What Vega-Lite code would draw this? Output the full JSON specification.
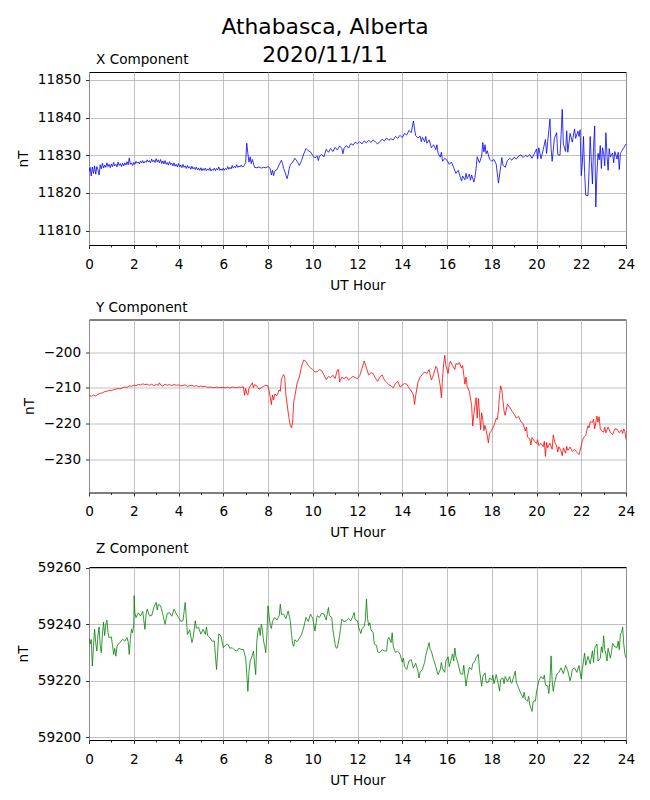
{
  "$schema": "https://vega.github.io/schema/vega-lite/v6.json",
  "description": "Athabasca magnetometer, X/Y/Z components for 2020-11-11.",
  "padding": {"left": 15, "top": 17, "right": 24, "bottom": 10},
  "title": {
    "text": ["Athabasca, Alberta", "2020/11/11"],
    "fontSize": 21.8,
    "fontWeight": "normal",
    "font": "DejaVu Sans",
    "color": "black",
    "lineHeight": 27.7,
    "anchor": "middle",
    "frame": "group",
    "dx": -32.5,
    "offset": -14
  },
  "config": {
    "font": "DejaVu Sans",
    "view": {"stroke": "black", "strokeWidth": 1},
    "axis": {
      "domain": false,
      "grid": true,
      "gridColor": "#b0b0b0",
      "gridWidth": 0.8,
      "tickColor": "black",
      "tickWidth": 0.8,
      "tickSize": 3.5,
      "labelFont": "DejaVu Sans",
      "labelFontSize": 13.6,
      "labelColor": "black",
      "labelPadding": 4.9,
      "labelFlush": false,
      "labelOverlap": false,
      "titleFont": "DejaVu Sans",
      "titleFontSize": 13.6,
      "titleFontWeight": "normal",
      "titleColor": "black",
      "titlePadding": 7
    },
    "axisX": {"labelPadding": 8.9},
    "title": {"font": "DejaVu Sans", "fontWeight": "normal", "color": "black"}
  },
  "bounds": "flush",
  "spacing": 74.5,
  "datasets": {
    "xc": [
      {"h":0.00,"v":11825.6},{"h":0.05,"v":11826.8},{"h":0.10,"v":11824.5},{"h":0.15,"v":11826.9},{"h":0.20,"v":11825.2},{"h":0.25,"v":11827.2},{"h":0.30,"v":11825.0},{"h":0.35,"v":11827.0},{"h":0.40,"v":11826.2},{"h":0.45,"v":11824.8},{"h":0.50,"v":11827.5},{"h":0.55,"v":11826.4},{"h":0.60,"v":11827.9},{"h":0.65,"v":11826.6},{"h":0.70,"v":11827.4},{"h":0.75,"v":11826.8},{"h":0.80,"v":11828.0},{"h":0.85,"v":11827.0},{"h":0.90,"v":11827.6},{"h":0.95,"v":11826.7},
      {"h":1.00,"v":11827.7},{"h":1.05,"v":11827.0},{"h":1.10,"v":11828.1},{"h":1.15,"v":11827.2},{"h":1.20,"v":11827.6},{"h":1.25,"v":11826.9},{"h":1.30,"v":11828.2},{"h":1.35,"v":11827.3},{"h":1.40,"v":11827.8},{"h":1.45,"v":11827.0},{"h":1.50,"v":11827.9},{"h":1.55,"v":11827.2},{"h":1.60,"v":11828.0},{"h":1.65,"v":11827.4},{"h":1.70,"v":11828.3},{"h":1.75,"v":11827.5},{"h":1.80,"v":11829.3},{"h":1.85,"v":11827.6},{"h":1.90,"v":11828.0},{"h":1.95,"v":11827.3},
      {"h":2.00,"v":11828.1},{"h":2.05,"v":11827.6},{"h":2.10,"v":11828.4},{"h":2.15,"v":11827.9},{"h":2.20,"v":11828.2},{"h":2.25,"v":11827.7},{"h":2.30,"v":11828.5},{"h":2.35,"v":11828.0},{"h":2.40,"v":11828.6},{"h":2.45,"v":11827.9},{"h":2.50,"v":11828.4},{"h":2.55,"v":11828.1},{"h":2.60,"v":11828.8},{"h":2.65,"v":11828.2},{"h":2.70,"v":11828.6},{"h":2.75,"v":11828.0},{"h":2.80,"v":11829.0},{"h":2.85,"v":11828.3},{"h":2.90,"v":11828.7},{"h":2.95,"v":11828.1},
      {"h":3.00,"v":11829.1},{"h":3.05,"v":11828.2},{"h":3.10,"v":11828.8},{"h":3.15,"v":11828.0},{"h":3.20,"v":11828.9},{"h":3.25,"v":11827.8},{"h":3.30,"v":11828.5},{"h":3.35,"v":11827.7},{"h":3.40,"v":11828.6},{"h":3.45,"v":11827.6},{"h":3.50,"v":11828.1},{"h":3.55,"v":11827.4},{"h":3.60,"v":11828.3},{"h":3.65,"v":11827.5},{"h":3.70,"v":11827.9},{"h":3.75,"v":11827.2},{"h":3.80,"v":11828.0},{"h":3.85,"v":11827.1},{"h":3.90,"v":11827.6},{"h":3.95,"v":11826.9},
      {"h":4.00,"v":11827.8},{"h":4.05,"v":11826.9},{"h":4.10,"v":11827.4},{"h":4.15,"v":11826.7},{"h":4.20,"v":11827.6},{"h":4.25,"v":11826.8},{"h":4.30,"v":11827.2},{"h":4.35,"v":11826.5},{"h":4.40,"v":11827.3},{"h":4.45,"v":11826.6},{"h":4.50,"v":11827.0},{"h":4.55,"v":11826.3},{"h":4.60,"v":11827.1},{"h":4.65,"v":11826.4},{"h":4.70,"v":11826.8},{"h":4.75,"v":11826.2},{"h":4.80,"v":11826.9},{"h":4.85,"v":11826.1},{"h":4.90,"v":11826.6},{"h":4.95,"v":11826.0},
      {"h":5.00,"v":11826.7},{"h":5.05,"v":11825.9},{"h":5.10,"v":11826.5},{"h":5.15,"v":11826.0},{"h":5.20,"v":11826.6},{"h":5.25,"v":11825.9},{"h":5.30,"v":11826.4},{"h":5.35,"v":11826.0},{"h":5.40,"v":11826.7},{"h":5.45,"v":11825.8},{"h":5.50,"v":11826.3},{"h":5.55,"v":11826.0},{"h":5.60,"v":11826.6},{"h":5.65,"v":11825.9},{"h":5.70,"v":11826.5},{"h":5.75,"v":11826.1},{"h":5.80,"v":11826.9},{"h":5.85,"v":11826.0},{"h":5.90,"v":11826.4},{"h":5.95,"v":11826.0},
      {"h":6.00,"v":11826.6},{"h":6.05,"v":11826.0},{"h":6.10,"v":11826.5},{"h":6.15,"v":11826.2},{"h":6.20,"v":11827.0},{"h":6.25,"v":11826.3},{"h":6.30,"v":11826.8},{"h":6.35,"v":11826.4},{"h":6.40,"v":11827.3},{"h":6.45,"v":11826.6},{"h":6.50,"v":11827.1},{"h":6.55,"v":11826.7},{"h":6.60,"v":11827.5},{"h":6.65,"v":11826.8},{"h":6.70,"v":11827.2},{"h":6.75,"v":11826.9},{"h":6.80,"v":11827.4},{"h":6.85,"v":11826.9},{"h":6.90,"v":11827.0},{"h":6.95,"v":11827.5},
      {"h":7.00,"v":11828.0},{"h":7.05,"v":11833.2},{"h":7.10,"v":11830.5},{"h":7.15,"v":11828.2},{"h":7.20,"v":11829.6},{"h":7.25,"v":11827.8},{"h":7.30,"v":11828.9},{"h":7.40,"v":11826.8},{"h":7.50,"v":11826.7},{"h":7.60,"v":11826.9},{"h":7.70,"v":11826.6},{"h":7.80,"v":11826.8},{"h":7.90,"v":11826.7},
      {"h":8.00,"v":11827.0},{"h":8.10,"v":11826.5},{"h":8.15,"v":11824.8},{"h":8.20,"v":11826.0},{"h":8.25,"v":11824.6},{"h":8.30,"v":11825.8},{"h":8.40,"v":11826.2},{"h":8.50,"v":11827.5},{"h":8.60,"v":11828.7},{"h":8.65,"v":11827.8},{"h":8.70,"v":11826.5},{"h":8.80,"v":11824.8},{"h":8.85,"v":11823.8},{"h":8.90,"v":11824.9},{"h":8.95,"v":11826.5},
      {"h":9.00,"v":11827.5},{"h":9.10,"v":11828.2},{"h":9.20,"v":11829.2},{"h":9.30,"v":11828.4},{"h":9.40,"v":11827.3},{"h":9.50,"v":11828.6},{"h":9.60,"v":11830.4},{"h":9.70,"v":11831.8},{"h":9.80,"v":11831.2},{"h":9.90,"v":11830.9},
      {"h":10.00,"v":11830.0},{"h":10.10,"v":11829.3},{"h":10.20,"v":11829.8},{"h":10.25,"v":11828.6},{"h":10.30,"v":11829.8},{"h":10.40,"v":11830.2},{"h":10.50,"v":11829.6},{"h":10.60,"v":11831.6},{"h":10.70,"v":11830.8},{"h":10.80,"v":11831.8},{"h":10.90,"v":11831.0},
      {"h":11.00,"v":11832.1},{"h":11.10,"v":11831.4},{"h":11.20,"v":11832.5},{"h":11.30,"v":11831.8},{"h":11.35,"v":11830.4},{"h":11.40,"v":11831.9},{"h":11.50,"v":11832.6},{"h":11.60,"v":11831.9},{"h":11.70,"v":11833.1},{"h":11.80,"v":11832.7},{"h":11.90,"v":11833.5},
      {"h":12.00,"v":11833.1},{"h":12.10,"v":11833.6},{"h":12.20,"v":11833.0},{"h":12.30,"v":11833.8},{"h":12.40,"v":11833.3},{"h":12.50,"v":11834.0},{"h":12.60,"v":11833.4},{"h":12.70,"v":11834.1},{"h":12.80,"v":11833.5},{"h":12.90,"v":11833.0},
      {"h":13.00,"v":11833.6},{"h":13.10,"v":11834.3},{"h":13.20,"v":11833.8},{"h":13.30,"v":11834.6},{"h":13.40,"v":11834.0},{"h":13.50,"v":11834.4},{"h":13.60,"v":11834.1},{"h":13.70,"v":11835.0},{"h":13.80,"v":11834.5},{"h":13.90,"v":11835.3},
      {"h":14.00,"v":11834.7},{"h":14.10,"v":11835.8},{"h":14.20,"v":11835.4},{"h":14.30,"v":11836.6},{"h":14.40,"v":11836.0},{"h":14.50,"v":11839.1},{"h":14.55,"v":11837.0},{"h":14.60,"v":11835.2},{"h":14.70,"v":11834.6},{"h":14.80,"v":11835.1},{"h":14.85,"v":11833.6},{"h":14.90,"v":11834.8},
      {"h":15.00,"v":11833.6},{"h":15.05,"v":11835.0},{"h":15.10,"v":11833.2},{"h":15.20,"v":11834.1},{"h":15.30,"v":11832.0},{"h":15.40,"v":11832.8},{"h":15.50,"v":11831.5},{"h":15.55,"v":11832.8},{"h":15.60,"v":11830.6},{"h":15.70,"v":11829.5},{"h":15.75,"v":11830.8},{"h":15.80,"v":11828.4},{"h":15.90,"v":11829.2},
      {"h":16.00,"v":11828.7},{"h":16.10,"v":11827.6},{"h":16.20,"v":11828.2},{"h":16.30,"v":11826.7},{"h":16.40,"v":11825.2},{"h":16.50,"v":11826.0},{"h":16.60,"v":11824.1},{"h":16.65,"v":11823.2},{"h":16.70,"v":11824.5},{"h":16.80,"v":11823.5},{"h":16.85,"v":11825.2},{"h":16.90,"v":11823.8},
      {"h":17.00,"v":11825.0},{"h":17.05,"v":11823.4},{"h":17.10,"v":11824.8},{"h":17.20,"v":11822.9},{"h":17.25,"v":11824.2},{"h":17.30,"v":11826.5},{"h":17.35,"v":11829.6},{"h":17.45,"v":11828.0},{"h":17.55,"v":11829.8},{"h":17.60,"v":11833.4},{"h":17.65,"v":11830.9},{"h":17.70,"v":11832.8},{"h":17.75,"v":11830.4},{"h":17.80,"v":11831.2},{"h":17.90,"v":11829.0},
      {"h":18.00,"v":11828.4},{"h":18.10,"v":11828.9},{"h":18.20,"v":11827.6},{"h":18.30,"v":11822.6},{"h":18.40,"v":11827.0},{"h":18.45,"v":11829.4},{"h":18.50,"v":11827.4},{"h":18.60,"v":11826.8},{"h":18.70,"v":11828.6},{"h":18.80,"v":11829.2},{"h":18.90,"v":11828.7},
      {"h":19.00,"v":11829.5},{"h":19.10,"v":11829.0},{"h":19.20,"v":11829.8},{"h":19.30,"v":11830.1},{"h":19.40,"v":11829.4},{"h":19.50,"v":11830.0},{"h":19.60,"v":11829.6},{"h":19.70,"v":11830.2},{"h":19.80,"v":11829.2},{"h":19.90,"v":11830.4},
      {"h":20.00,"v":11831.7},{"h":20.05,"v":11829.0},{"h":20.10,"v":11832.0},{"h":20.20,"v":11829.1},{"h":20.30,"v":11831.5},{"h":20.40,"v":11834.2},{"h":20.45,"v":11830.5},{"h":20.50,"v":11833.6},{"h":20.60,"v":11839.6},{"h":20.65,"v":11832.0},{"h":20.70,"v":11828.4},{"h":20.80,"v":11834.5},{"h":20.90,"v":11836.0},{"h":20.95,"v":11830.2},
      {"h":21.05,"v":11830.0},{"h":21.10,"v":11835.5},{"h":21.15,"v":11842.2},{"h":21.20,"v":11833.0},{"h":21.30,"v":11831.0},{"h":21.35,"v":11836.5},{"h":21.40,"v":11830.8},{"h":21.50,"v":11835.8},{"h":21.60,"v":11833.5},{"h":21.70,"v":11837.0},{"h":21.75,"v":11834.5},{"h":21.85,"v":11836.4},{"h":21.90,"v":11835.0},{"h":21.95,"v":11836.8},
      {"h":22.00,"v":11824.6},{"h":22.05,"v":11828.0},{"h":22.10,"v":11835.0},{"h":22.15,"v":11825.5},{"h":22.20,"v":11819.4},{"h":22.30,"v":11819.3},{"h":22.35,"v":11826.0},{"h":22.40,"v":11835.0},{"h":22.45,"v":11828.4},{"h":22.50,"v":11822.4},{"h":22.55,"v":11832.0},{"h":22.60,"v":11837.8},{"h":22.65,"v":11816.3},{"h":22.70,"v":11825.0},{"h":22.75,"v":11830.5},{"h":22.80,"v":11828.8},{"h":22.85,"v":11832.6},{"h":22.90,"v":11826.5},{"h":22.95,"v":11832.0},
      {"h":23.00,"v":11830.5},{"h":23.05,"v":11827.2},{"h":23.10,"v":11836.0},{"h":23.15,"v":11830.0},{"h":23.20,"v":11826.0},{"h":23.25,"v":11831.8},{"h":23.30,"v":11829.5},{"h":23.40,"v":11830.6},{"h":23.45,"v":11828.0},{"h":23.50,"v":11831.0},{"h":23.60,"v":11829.0},{"h":23.65,"v":11830.8},{"h":23.70,"v":11826.2},{"h":23.75,"v":11830.5},{"h":23.80,"v":11831.0},{"h":23.90,"v":11832.0},{"h":24.00,"v":11833.0}
    ],
    "yc": [
      {"h":0.00,"v":-212.1},{"h":0.10,"v":-212.4},{"h":0.20,"v":-212.0},{"h":0.30,"v":-212.3},{"h":0.40,"v":-211.8},{"h":0.50,"v":-211.6},{"h":0.60,"v":-211.4},{"h":0.70,"v":-211.1},{"h":0.80,"v":-211.0},{"h":0.90,"v":-210.7},
      {"h":1.00,"v":-210.8},{"h":1.10,"v":-210.5},{"h":1.20,"v":-210.4},{"h":1.30,"v":-210.2},{"h":1.40,"v":-210.3},{"h":1.50,"v":-210.0},{"h":1.60,"v":-209.8},{"h":1.70,"v":-209.9},{"h":1.80,"v":-209.5},{"h":1.90,"v":-209.6},
      {"h":2.00,"v":-209.3},{"h":2.10,"v":-209.4},{"h":2.20,"v":-209.1},{"h":2.30,"v":-209.2},{"h":2.40,"v":-208.9},{"h":2.50,"v":-209.1},{"h":2.60,"v":-209.0},{"h":2.70,"v":-209.3},{"h":2.80,"v":-209.0},{"h":2.90,"v":-209.4},
      {"h":3.00,"v":-209.1},{"h":3.10,"v":-209.3},{"h":3.15,"v":-208.6},{"h":3.20,"v":-209.2},{"h":3.30,"v":-209.5},{"h":3.40,"v":-209.0},{"h":3.50,"v":-209.3},{"h":3.60,"v":-209.1},{"h":3.70,"v":-209.4},{"h":3.80,"v":-209.1},{"h":3.90,"v":-209.3},
      {"h":4.00,"v":-209.2},{"h":4.10,"v":-209.5},{"h":4.20,"v":-209.3},{"h":4.30,"v":-209.2},{"h":4.40,"v":-209.6},{"h":4.50,"v":-209.4},{"h":4.60,"v":-209.3},{"h":4.70,"v":-209.6},{"h":4.80,"v":-209.4},{"h":4.90,"v":-209.7},
      {"h":5.00,"v":-209.5},{"h":5.10,"v":-209.7},{"h":5.20,"v":-209.6},{"h":5.30,"v":-209.9},{"h":5.40,"v":-209.8},{"h":5.50,"v":-209.9},{"h":5.60,"v":-210.0},{"h":5.70,"v":-209.8},{"h":5.80,"v":-210.0},{"h":5.90,"v":-209.9},
      {"h":6.00,"v":-209.9},{"h":6.10,"v":-210.0},{"h":6.20,"v":-209.8},{"h":6.30,"v":-210.1},{"h":6.40,"v":-209.8},{"h":6.50,"v":-209.9},{"h":6.60,"v":-210.0},{"h":6.70,"v":-209.8},{"h":6.80,"v":-209.9},{"h":6.90,"v":-209.7},{"h":6.95,"v":-212.1},
      {"h":7.00,"v":-210.2},{"h":7.05,"v":-211.6},{"h":7.10,"v":-212.0},{"h":7.15,"v":-210.2},{"h":7.20,"v":-209.6},{"h":7.30,"v":-208.6},{"h":7.35,"v":-210.0},{"h":7.40,"v":-209.1},{"h":7.50,"v":-209.5},{"h":7.60,"v":-210.4},{"h":7.70,"v":-210.0},{"h":7.80,"v":-209.6},{"h":7.90,"v":-209.3},
      {"h":8.00,"v":-209.5},{"h":8.05,"v":-210.8},{"h":8.10,"v":-212.7},{"h":8.15,"v":-214.7},{"h":8.20,"v":-212.0},{"h":8.25,"v":-213.4},{"h":8.30,"v":-211.8},{"h":8.40,"v":-212.2},{"h":8.50,"v":-210.6},{"h":8.55,"v":-211.0},{"h":8.60,"v":-207.6},{"h":8.65,"v":-206.8},{"h":8.70,"v":-206.3},{"h":8.75,"v":-207.2},{"h":8.80,"v":-212.0},{"h":8.90,"v":-216.8},{"h":8.95,"v":-218.9},
      {"h":9.00,"v":-220.6},{"h":9.05,"v":-221.2},{"h":9.10,"v":-219.6},{"h":9.15,"v":-214.0},{"h":9.20,"v":-212.4},{"h":9.30,"v":-208.7},{"h":9.40,"v":-207.0},{"h":9.50,"v":-204.0},{"h":9.60,"v":-202.2},{"h":9.70,"v":-202.7},{"h":9.80,"v":-203.8},{"h":9.90,"v":-204.4},
      {"h":10.00,"v":-204.9},{"h":10.10,"v":-205.6},{"h":10.20,"v":-205.5},{"h":10.30,"v":-204.9},{"h":10.40,"v":-205.2},{"h":10.50,"v":-206.4},{"h":10.60,"v":-207.7},{"h":10.70,"v":-206.8},{"h":10.80,"v":-207.2},{"h":10.90,"v":-206.5},
      {"h":11.00,"v":-207.4},{"h":11.10,"v":-205.0},{"h":11.15,"v":-204.9},{"h":11.20,"v":-208.4},{"h":11.30,"v":-207.0},{"h":11.40,"v":-207.5},{"h":11.50,"v":-206.9},{"h":11.60,"v":-207.8},{"h":11.70,"v":-207.3},{"h":11.80,"v":-206.8},{"h":11.90,"v":-207.2},
      {"h":12.00,"v":-207.4},{"h":12.10,"v":-206.6},{"h":12.20,"v":-204.6},{"h":12.30,"v":-202.5},{"h":12.40,"v":-204.5},{"h":12.50,"v":-206.4},{"h":12.60,"v":-205.8},{"h":12.70,"v":-206.0},{"h":12.80,"v":-207.3},{"h":12.90,"v":-208.2},
      {"h":13.00,"v":-207.0},{"h":13.10,"v":-206.4},{"h":13.20,"v":-207.8},{"h":13.30,"v":-208.5},{"h":13.40,"v":-209.1},{"h":13.50,"v":-209.5},{"h":13.60,"v":-210.0},{"h":13.70,"v":-208.7},{"h":13.80,"v":-208.2},{"h":13.90,"v":-209.8},
      {"h":14.00,"v":-209.3},{"h":14.10,"v":-208.8},{"h":14.20,"v":-209.0},{"h":14.30,"v":-210.0},{"h":14.40,"v":-210.9},{"h":14.50,"v":-212.0},{"h":14.55,"v":-214.7},{"h":14.60,"v":-212.2},{"h":14.70,"v":-208.5},{"h":14.80,"v":-206.9},{"h":14.90,"v":-206.3},
      {"h":15.00,"v":-205.6},{"h":15.10,"v":-206.0},{"h":15.20,"v":-204.9},{"h":15.30,"v":-207.8},{"h":15.35,"v":-207.2},{"h":15.40,"v":-206.3},{"h":15.50,"v":-204.0},{"h":15.55,"v":-204.3},{"h":15.60,"v":-206.0},{"h":15.70,"v":-209.5},{"h":15.75,"v":-212.8},{"h":15.80,"v":-207.4},{"h":15.85,"v":-203.2},{"h":15.90,"v":-200.9},{"h":15.95,"v":-203.8},
      {"h":16.05,"v":-206.0},{"h":16.10,"v":-203.5},{"h":16.15,"v":-202.6},{"h":16.25,"v":-203.8},{"h":16.35,"v":-204.9},{"h":16.40,"v":-203.2},{"h":16.50,"v":-203.5},{"h":16.55,"v":-202.9},{"h":16.65,"v":-204.5},{"h":16.70,"v":-203.8},{"h":16.80,"v":-209.0},{"h":16.85,"v":-207.0},{"h":16.90,"v":-209.6},
      {"h":17.00,"v":-211.0},{"h":17.10,"v":-215.0},{"h":17.15,"v":-220.7},{"h":17.20,"v":-217.5},{"h":17.25,"v":-215.0},{"h":17.30,"v":-212.8},{"h":17.35,"v":-218.5},{"h":17.40,"v":-213.0},{"h":17.45,"v":-217.0},{"h":17.50,"v":-221.7},{"h":17.55,"v":-217.0},{"h":17.60,"v":-219.0},{"h":17.65,"v":-222.0},{"h":17.70,"v":-220.5},{"h":17.75,"v":-221.9},{"h":17.80,"v":-223.5},{"h":17.85,"v":-225.4},{"h":17.90,"v":-222.8},
      {"h":18.00,"v":-221.8},{"h":18.10,"v":-220.6},{"h":18.20,"v":-218.5},{"h":18.25,"v":-218.9},{"h":18.30,"v":-216.2},{"h":18.35,"v":-212.0},{"h":18.40,"v":-209.5},{"h":18.45,"v":-210.6},{"h":18.50,"v":-213.5},{"h":18.55,"v":-216.5},{"h":18.60,"v":-217.7},{"h":18.70,"v":-214.6},{"h":18.80,"v":-215.4},{"h":18.90,"v":-216.5},
      {"h":19.00,"v":-217.4},{"h":19.10,"v":-218.5},{"h":19.20,"v":-218.0},{"h":19.30,"v":-219.5},{"h":19.40,"v":-220.0},{"h":19.50,"v":-222.1},{"h":19.55,"v":-221.0},{"h":19.60,"v":-223.8},{"h":19.70,"v":-224.3},{"h":19.75,"v":-226.0},{"h":19.80,"v":-223.9},{"h":19.90,"v":-224.9},
      {"h":20.00,"v":-225.6},{"h":20.05,"v":-224.5},{"h":20.10,"v":-226.2},{"h":20.20,"v":-225.6},{"h":20.30,"v":-226.5},{"h":20.35,"v":-225.0},{"h":20.40,"v":-229.2},{"h":20.45,"v":-225.3},{"h":20.50,"v":-226.8},{"h":20.60,"v":-225.5},{"h":20.70,"v":-227.2},{"h":20.75,"v":-223.2},{"h":20.80,"v":-225.0},{"h":20.90,"v":-226.3},{"h":20.95,"v":-228.0},
      {"h":21.00,"v":-226.5},{"h":21.10,"v":-227.7},{"h":21.15,"v":-229.0},{"h":21.20,"v":-226.8},{"h":21.30,"v":-228.3},{"h":21.35,"v":-226.4},{"h":21.40,"v":-227.5},{"h":21.50,"v":-226.6},{"h":21.60,"v":-227.8},{"h":21.70,"v":-227.2},{"h":21.80,"v":-228.0},{"h":21.90,"v":-228.7},
      {"h":22.00,"v":-226.2},{"h":22.05,"v":-224.8},{"h":22.10,"v":-224.0},{"h":22.20,"v":-223.3},{"h":22.30,"v":-220.6},{"h":22.35,"v":-221.2},{"h":22.40,"v":-219.5},{"h":22.50,"v":-219.7},{"h":22.55,"v":-218.8},{"h":22.60,"v":-221.5},{"h":22.70,"v":-217.9},{"h":22.75,"v":-219.6},{"h":22.80,"v":-218.1},{"h":22.85,"v":-221.5},{"h":22.90,"v":-222.0},
      {"h":23.00,"v":-222.4},{"h":23.05,"v":-221.0},{"h":23.10,"v":-222.6},{"h":23.20,"v":-221.0},{"h":23.30,"v":-222.5},{"h":23.40,"v":-223.1},{"h":23.50,"v":-221.5},{"h":23.60,"v":-221.6},{"h":23.70,"v":-222.6},{"h":23.80,"v":-221.8},{"h":23.85,"v":-222.8},{"h":23.90,"v":-221.5},{"h":23.95,"v":-222.2},{"h":24.00,"v":-224.5}
    ],
    "zc": [
      {"h":0.00,"v":59235.3},{"h":0.05,"v":59233.0},{"h":0.10,"v":59234.6},{"h":0.15,"v":59225.2},{"h":0.20,"v":59232.0},{"h":0.25,"v":59238.2},{"h":0.30,"v":59233.5},{"h":0.35,"v":59230.5},{"h":0.40,"v":59236.0},{"h":0.45,"v":59239.0},{"h":0.50,"v":59232.5},{"h":0.55,"v":59229.9},{"h":0.60,"v":59236.5},{"h":0.65,"v":59240.7},{"h":0.70,"v":59236.0},{"h":0.75,"v":59239.8},{"h":0.80,"v":59241.4},{"h":0.85,"v":59237.0},{"h":0.90,"v":59235.2},
      {"h":1.00,"v":59235.5},{"h":1.05,"v":59232.5},{"h":1.10,"v":59229.3},{"h":1.15,"v":59231.5},{"h":1.20,"v":59228.7},{"h":1.25,"v":59232.0},{"h":1.30,"v":59232.9},{"h":1.40,"v":59233.6},{"h":1.50,"v":59234.7},{"h":1.60,"v":59234.0},{"h":1.70,"v":59235.3},{"h":1.75,"v":59233.8},{"h":1.80,"v":59229.3},{"h":1.85,"v":59235.0},{"h":1.90,"v":59238.2},{"h":1.95,"v":59237.0},
      {"h":2.00,"v":59240.0},{"h":2.02,"v":59250.1},{"h":2.05,"v":59244.0},{"h":2.10,"v":59242.3},{"h":2.20,"v":59244.0},{"h":2.30,"v":59242.9},{"h":2.40,"v":59244.5},{"h":2.50,"v":59238.2},{"h":2.55,"v":59243.5},{"h":2.60,"v":59245.3},{"h":2.70,"v":59243.0},{"h":2.80,"v":59243.0},{"h":2.90,"v":59246.0},
      {"h":3.00,"v":59247.7},{"h":3.05,"v":59245.0},{"h":3.10,"v":59247.0},{"h":3.20,"v":59246.5},{"h":3.30,"v":59243.5},{"h":3.40,"v":59240.0},{"h":3.45,"v":59242.0},{"h":3.50,"v":59243.8},{"h":3.60,"v":59244.1},{"h":3.70,"v":59242.8},{"h":3.80,"v":59245.3},{"h":3.90,"v":59243.6},
      {"h":4.00,"v":59242.4},{"h":4.10,"v":59241.0},{"h":4.20,"v":59241.2},{"h":4.25,"v":59244.5},{"h":4.30,"v":59247.7},{"h":4.35,"v":59242.0},{"h":4.40,"v":59236.4},{"h":4.50,"v":59238.0},{"h":4.60,"v":59233.5},{"h":4.65,"v":59235.0},{"h":4.75,"v":59241.2},{"h":4.80,"v":59238.6},{"h":4.90,"v":59238.8},
      {"h":5.00,"v":59236.5},{"h":5.10,"v":59238.2},{"h":5.20,"v":59236.4},{"h":5.25,"v":59239.0},{"h":5.30,"v":59236.0},{"h":5.40,"v":59235.3},{"h":5.50,"v":59234.0},{"h":5.60,"v":59234.1},{"h":5.65,"v":59229.0},{"h":5.70,"v":59224.0},{"h":5.75,"v":59230.0},{"h":5.80,"v":59236.5},{"h":5.90,"v":59235.8},
      {"h":6.00,"v":59231.7},{"h":6.10,"v":59232.6},{"h":6.20,"v":59232.9},{"h":6.30,"v":59231.5},{"h":6.40,"v":59231.7},{"h":6.50,"v":59230.9},{"h":6.60,"v":59230.5},{"h":6.70,"v":59231.5},{"h":6.80,"v":59231.1},{"h":6.90,"v":59231.1},
      {"h":7.00,"v":59228.1},{"h":7.05,"v":59222.5},{"h":7.10,"v":59216.3},{"h":7.15,"v":59223.0},{"h":7.20,"v":59227.0},{"h":7.30,"v":59229.0},{"h":7.35,"v":59230.5},{"h":7.40,"v":59226.0},{"h":7.45,"v":59222.2},{"h":7.50,"v":59234.0},{"h":7.55,"v":59237.5},{"h":7.60,"v":59238.8},{"h":7.65,"v":59236.0},{"h":7.70,"v":59240.0},{"h":7.75,"v":59238.0},{"h":7.80,"v":59234.0},{"h":7.85,"v":59232.5},{"h":7.90,"v":59229.9},{"h":7.95,"v":59236.0},
      {"h":8.00,"v":59246.5},{"h":8.05,"v":59243.0},{"h":8.10,"v":59239.5},{"h":8.15,"v":59238.5},{"h":8.20,"v":59241.0},{"h":8.30,"v":59242.4},{"h":8.40,"v":59241.5},{"h":8.50,"v":59243.0},{"h":8.55,"v":59247.1},{"h":8.60,"v":59243.5},{"h":8.70,"v":59243.5},{"h":8.80,"v":59242.0},{"h":8.90,"v":59244.7},
      {"h":9.00,"v":59241.0},{"h":9.05,"v":59236.4},{"h":9.10,"v":59233.0},{"h":9.15,"v":59232.2},{"h":9.20,"v":59234.5},{"h":9.30,"v":59233.8},{"h":9.40,"v":59235.0},{"h":9.50,"v":59236.4},{"h":9.60,"v":59239.0},{"h":9.70,"v":59242.4},{"h":9.80,"v":59241.0},{"h":9.90,"v":59243.6},
      {"h":10.00,"v":59242.0},{"h":10.10,"v":59237.6},{"h":10.15,"v":59240.5},{"h":10.20,"v":59243.0},{"h":10.30,"v":59242.4},{"h":10.40,"v":59243.8},{"h":10.50,"v":59243.6},{"h":10.60,"v":59241.5},{"h":10.70,"v":59245.9},{"h":10.75,"v":59243.0},{"h":10.85,"v":59242.4},{"h":10.90,"v":59238.0},
      {"h":11.00,"v":59232.9},{"h":11.05,"v":59231.5},{"h":11.10,"v":59231.7},{"h":11.20,"v":59236.0},{"h":11.30,"v":59241.8},{"h":11.40,"v":59240.8},{"h":11.50,"v":59241.2},{"h":11.60,"v":59242.0},{"h":11.70,"v":59241.2},{"h":11.80,"v":59243.0},{"h":11.85,"v":59244.1},{"h":11.90,"v":59241.5},
      {"h":12.00,"v":59241.2},{"h":12.05,"v":59239.0},{"h":12.10,"v":59237.8},{"h":12.15,"v":59236.7},{"h":12.20,"v":59238.5},{"h":12.30,"v":59239.2},{"h":12.35,"v":59241.5},{"h":12.40,"v":59248.9},{"h":12.45,"v":59242.0},{"h":12.50,"v":59239.5},{"h":12.55,"v":59240.5},{"h":12.60,"v":59238.0},{"h":12.70,"v":59237.0},{"h":12.75,"v":59233.0},{"h":12.85,"v":59232.5},{"h":12.90,"v":59230.2},
      {"h":13.00,"v":59230.0},{"h":13.10,"v":59231.0},{"h":13.20,"v":59230.6},{"h":13.30,"v":59230.5},{"h":13.35,"v":59234.5},{"h":13.40,"v":59235.3},{"h":13.50,"v":59233.5},{"h":13.55,"v":59237.0},{"h":13.60,"v":59232.0},{"h":13.70,"v":59230.0},{"h":13.80,"v":59230.5},{"h":13.90,"v":59229.4},
      {"h":14.00,"v":59226.6},{"h":14.05,"v":59228.0},{"h":14.10,"v":59225.0},{"h":14.20,"v":59224.0},{"h":14.30,"v":59227.0},{"h":14.40,"v":59227.5},{"h":14.50,"v":59224.5},{"h":14.60,"v":59226.2},{"h":14.70,"v":59223.5},{"h":14.75,"v":59221.0},{"h":14.80,"v":59223.0},{"h":14.90,"v":59224.0},
      {"h":15.00,"v":59226.5},{"h":15.05,"v":59229.0},{"h":15.10,"v":59230.5},{"h":15.20,"v":59233.5},{"h":15.25,"v":59231.0},{"h":15.30,"v":59230.5},{"h":15.40,"v":59227.5},{"h":15.50,"v":59225.0},{"h":15.60,"v":59222.2},{"h":15.70,"v":59224.0},{"h":15.75,"v":59226.5},{"h":15.80,"v":59224.2},{"h":15.90,"v":59223.0},{"h":15.95,"v":59227.0},
      {"h":16.05,"v":59228.5},{"h":16.10,"v":59225.0},{"h":16.20,"v":59228.0},{"h":16.25,"v":59229.5},{"h":16.30,"v":59227.0},{"h":16.35,"v":59231.6},{"h":16.40,"v":59228.5},{"h":16.50,"v":59226.0},{"h":16.60,"v":59222.5},{"h":16.70,"v":59222.3},{"h":16.75,"v":59225.5},{"h":16.85,"v":59218.1},{"h":16.90,"v":59221.0},
      {"h":17.00,"v":59224.8},{"h":17.10,"v":59224.0},{"h":17.15,"v":59226.0},{"h":17.25,"v":59227.0},{"h":17.30,"v":59228.2},{"h":17.40,"v":59229.4},{"h":17.45,"v":59224.0},{"h":17.55,"v":59218.1},{"h":17.60,"v":59221.5},{"h":17.70,"v":59222.8},{"h":17.75,"v":59219.5},{"h":17.85,"v":59219.5},{"h":17.90,"v":59221.0},
      {"h":18.00,"v":59220.3},{"h":18.05,"v":59222.0},{"h":18.10,"v":59219.0},{"h":18.20,"v":59222.2},{"h":18.25,"v":59220.5},{"h":18.35,"v":59216.4},{"h":18.40,"v":59220.5},{"h":18.50,"v":59221.0},{"h":18.55,"v":59219.0},{"h":18.60,"v":59221.5},{"h":18.70,"v":59219.8},{"h":18.80,"v":59221.5},{"h":18.85,"v":59219.5},{"h":18.90,"v":59219.2},
      {"h":19.00,"v":59222.0},{"h":19.05,"v":59223.4},{"h":19.10,"v":59219.5},{"h":19.20,"v":59217.5},{"h":19.30,"v":59215.5},{"h":19.40,"v":59214.0},{"h":19.45,"v":59216.0},{"h":19.50,"v":59213.5},{"h":19.60,"v":59212.8},{"h":19.65,"v":59214.5},{"h":19.70,"v":59211.5},{"h":19.80,"v":59209.2},{"h":19.85,"v":59212.5},{"h":19.90,"v":59213.0},{"h":19.95,"v":59212.8},
      {"h":20.00,"v":59216.0},{"h":20.05,"v":59218.0},{"h":20.10,"v":59220.0},{"h":20.20,"v":59221.5},{"h":20.30,"v":59220.6},{"h":20.35,"v":59222.0},{"h":20.40,"v":59218.5},{"h":20.50,"v":59218.2},{"h":20.55,"v":59215.5},{"h":20.60,"v":59220.0},{"h":20.65,"v":59228.8},{"h":20.70,"v":59220.0},{"h":20.75,"v":59216.3},{"h":20.80,"v":59219.0},{"h":20.90,"v":59222.2},
      {"h":21.00,"v":59223.0},{"h":21.10,"v":59224.6},{"h":21.20,"v":59222.5},{"h":21.30,"v":59225.4},{"h":21.40,"v":59223.5},{"h":21.50,"v":59220.0},{"h":21.55,"v":59221.5},{"h":21.60,"v":59224.0},{"h":21.70,"v":59224.6},{"h":21.80,"v":59223.0},{"h":21.90,"v":59225.4},{"h":21.95,"v":59223.0},
      {"h":22.00,"v":59220.6},{"h":22.05,"v":59224.0},{"h":22.10,"v":59227.0},{"h":22.15,"v":59229.8},{"h":22.20,"v":59225.5},{"h":22.30,"v":59228.6},{"h":22.40,"v":59226.0},{"h":22.50,"v":59230.6},{"h":22.55,"v":59226.5},{"h":22.60,"v":59231.5},{"h":22.70,"v":59233.0},{"h":22.75,"v":59227.0},{"h":22.85,"v":59228.0},{"h":22.90,"v":59232.0},{"h":22.95,"v":59230.0},
      {"h":23.00,"v":59235.9},{"h":23.05,"v":59231.0},{"h":23.10,"v":59229.5},{"h":23.15,"v":59227.0},{"h":23.20,"v":59231.5},{"h":23.30,"v":59228.0},{"h":23.35,"v":59230.0},{"h":23.40,"v":59233.2},{"h":23.50,"v":59232.0},{"h":23.60,"v":59231.8},{"h":23.65,"v":59234.0},{"h":23.70,"v":59231.0},{"h":23.75,"v":59236.5},{"h":23.80,"v":59237.0},{"h":23.85,"v":59239.0},{"h":23.90,"v":59233.0},{"h":23.95,"v":59229.5},{"h":24.00,"v":59228.0}
    ]
  },
  "vconcat": [
    {
      "width": 537,
      "height": 173,
      "title": {"text": "X Component", "anchor": "start", "frame": "group", "dx": 7, "offset": -6, "fontSize": 13.6, "fontWeight": "normal", "baseline": "alphabetic"},
      "data": {"name": "xc"},
      "mark": {"type": "line", "color": "blue", "strokeWidth": 0.8, "clip": true},
      "encoding": {
        "x": {
          "field": "h", "type": "quantitative", "title": "UT Hour",
          "scale": {"domain": [0, 24], "nice": false, "zero": false},
          "axis": {
            "values": [0,1,2,3,4,5,6,7,8,9,10,11,12,13,14,15,16,17,18,19,20,21,22,23,24],
            "labelExpr": "datum.value % 2 === 0 ? datum.label : ''",
            "tickSize": {"condition": {"test": "datum.value % 2 === 0", "value": 3.5}, "value": 2},
            "gridOpacity": {"condition": {"test": "datum.value % 2 === 0", "value": 1}, "value": 0}
          }
        },
        "y": {
          "field": "v", "type": "quantitative", "title": "nT",
          "scale": {"domain": [11806.2, 11852.1], "nice": false, "zero": false},
          "axis": {"values": [11810, 11820, 11830, 11840, 11850], "format": "d"}
        }
      }
    },
    {
      "width": 537,
      "height": 173,
      "title": {"text": "Y Component", "anchor": "start", "frame": "group", "dx": 7, "offset": -6, "fontSize": 13.6, "fontWeight": "normal", "baseline": "alphabetic"},
      "data": {"name": "yc"},
      "mark": {"type": "line", "color": "red", "strokeWidth": 0.8, "clip": true},
      "encoding": {
        "x": {
          "field": "h", "type": "quantitative", "title": "UT Hour",
          "scale": {"domain": [0, 24], "nice": false, "zero": false},
          "axis": {
            "values": [0,1,2,3,4,5,6,7,8,9,10,11,12,13,14,15,16,17,18,19,20,21,22,23,24],
            "labelExpr": "datum.value % 2 === 0 ? datum.label : ''",
            "tickSize": {"condition": {"test": "datum.value % 2 === 0", "value": 3.5}, "value": 2},
            "gridOpacity": {"condition": {"test": "datum.value % 2 === 0", "value": 1}, "value": 0}
          }
        },
        "y": {
          "field": "v", "type": "quantitative", "title": "nT",
          "scale": {"domain": [-239.3, -190.9], "nice": false, "zero": false},
          "axis": {"values": [-230, -220, -210, -200], "format": "d"}
        }
      }
    },
    {
      "width": 537,
      "height": 173,
      "title": {"text": "Z Component", "anchor": "start", "frame": "group", "dx": 7, "offset": -6, "fontSize": 13.6, "fontWeight": "normal", "baseline": "alphabetic"},
      "data": {"name": "zc"},
      "mark": {"type": "line", "color": "green", "strokeWidth": 0.8, "clip": true},
      "encoding": {
        "x": {
          "field": "h", "type": "quantitative", "title": "UT Hour",
          "scale": {"domain": [0, 24], "nice": false, "zero": false},
          "axis": {
            "values": [0,1,2,3,4,5,6,7,8,9,10,11,12,13,14,15,16,17,18,19,20,21,22,23,24],
            "labelExpr": "datum.value % 2 === 0 ? datum.label : ''",
            "tickSize": {"condition": {"test": "datum.value % 2 === 0", "value": 3.5}, "value": 2},
            "gridOpacity": {"condition": {"test": "datum.value % 2 === 0", "value": 1}, "value": 0}
          }
        },
        "y": {
          "field": "v", "type": "quantitative", "title": "nT",
          "scale": {"domain": [59199.1, 59260.2], "nice": false, "zero": false},
          "axis": {"values": [59200, 59220, 59240, 59260], "format": "d"}
        }
      }
    }
  ]
}
